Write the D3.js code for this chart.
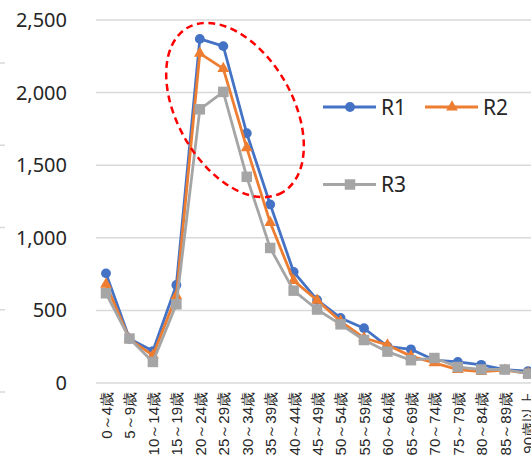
<!DOCTYPE html>
<html>
<head>
<meta charset="utf-8">
<script src="https://cdn.jsdelivr.net/npm/d3@7"></script>
<style>
  html, body { margin: 0; padding: 0; background: #fff; }
  svg { display: block; font-family: "Noto Sans", "Noto Sans CJK JP", sans-serif; }
</style>
</head>
<body>
<svg id="chart" width="531" height="466"></svg>
<script>
// Age groups on the category axis
const categories = ["0～4歳", "5～9歳", "10～14歳", "15～19歳", "20～24歳", "25～29歳",
  "30～34歳", "35～39歳", "40～44歳", "45～49歳", "50～54歳", "55～59歳", "60～64歳",
  "65～69歳", "70～74歳", "75～79歳", "80～84歳", "85～89歳", "90歳以上"];

// Counts for each series
const r1 = [755, 305, 220, 675, 2370, 2320, 1720, 1230, 765, 572, 448, 377, 252, 232, 158, 145, 125, 92, 82];
const r2 = [680, 302, 190, 600, 2270, 2165, 1620, 1105, 705, 570, 425, 310, 262, 185, 138, 92, 78, 88, 66];
const r3 = [618, 306, 145, 542, 1885, 2005, 1420, 930, 636, 506, 404, 296, 216, 157, 172, 110, 93, 93, 64];

const seriesNames = ["R1", "R2", "R3"];
const yTicks = [0, 500, 1000, 1500, 2000, 2500];

const series = [
  { name: seriesNames[0], values: r1, color: "#4472c4", shape: d3.symbolCircle, size: 76 },
  { name: seriesNames[1], values: r2, color: "#ed7d31", shape: d3.symbolTriangle, size: 60 },
  { name: seriesNames[2], values: r3, color: "#a5a5a5", shape: d3.symbolSquare, size: 110 }
];

const svg = d3.select("#chart");

const x = d3.scalePoint().domain(categories).range([106, 528.2]);
const y = d3.scaleLinear().domain([0, 2500]).range([383, 20]);
const plotLeft = 96, plotRight = 531;

// Faint tick stubs along the left edge
const stub = d3.scaleLinear().domain([0, 4]).range([392, 63]);
svg.append("g").selectAll("line").data(d3.range(5)).join("line")
  .attr("x1", 0).attr("x2", 5)
  .attr("y1", d => stub(d)).attr("y2", d => stub(d))
  .attr("stroke", "#d9d9d9").attr("stroke-width", 1.5);

// Horizontal gridlines
svg.append("g").selectAll("line").data(yTicks).join("line")
  .attr("x1", plotLeft).attr("x2", plotRight)
  .attr("y1", d => y(d)).attr("y2", d => y(d))
  .attr("stroke", "#d9d9d9").attr("stroke-width", 1.5);

// Y axis labels
const yAxis = svg.append("g")
  .attr("transform", `translate(${plotLeft},0)`)
  .call(d3.axisLeft(y).tickValues(yTicks).tickFormat(d3.format(",")).tickSize(0).tickPadding(29));
yAxis.select(".domain").remove();
yAxis.selectAll("text").attr("font-size", 20).attr("fill", "#262626")
  .attr("font-family", "\"Noto Sans\", sans-serif");

// X axis labels, rotated
const xAxis = svg.append("g")
  .attr("transform", `translate(0,${y(0)})`)
  .call(d3.axisBottom(x).tickSize(0));
xAxis.select(".domain").remove();
xAxis.selectAll("text")
  .attr("font-size", 15).attr("fill", "#262626")
  .attr("transform", "rotate(-90)")
  .attr("text-anchor", "end")
  .attr("x", -9).attr("y", 0).attr("dy", "0.36em");

// Lines and markers
const line = d3.line().x((d, i) => x(categories[i])).y(d => y(d));
series.forEach(s => {
  const g = svg.append("g");
  g.append("path").datum(s.values)
    .attr("d", line).attr("fill", "none")
    .attr("stroke", s.color).attr("stroke-width", 2.8)
    .attr("stroke-linejoin", "round");
  g.selectAll("path.m").data(s.values).join("path").attr("class", "m")
    .attr("d", d3.symbol(s.shape, s.size))
    .attr("transform", (d, i) => `translate(${x(categories[i])},${y(d)})`)
    .attr("fill", s.color);
});

// Dashed ellipse around the peak ages
const peakCx = (x(categories[4]) + x(categories[7])) / 2;
const peakCy = y(1880);
svg.append("ellipse")
  .attr("cx", 0).attr("cy", 0).attr("rx", 95).attr("ry", 57.5)
  .attr("transform", `translate(${peakCx},${peakCy}) rotate(60)`)
  .attr("fill", "none").attr("stroke", "#ff0000")
  .attr("stroke-width", 2.5).attr("stroke-dasharray", "7,4.5");

// Legend
const legendItems = [
  { s: series[0], x: 323, y: 107 },
  { s: series[1], x: 425, y: 107 },
  { s: series[2], x: 323, y: 184.5 }
];
const lg = svg.append("g").selectAll("g").data(legendItems).join("g")
  .attr("transform", d => `translate(${d.x},${d.y})`);
lg.append("line").attr("x1", 0).attr("x2", 53).attr("y1", 0).attr("y2", 0)
  .attr("stroke", d => d.s.color).attr("stroke-width", 2.8);
lg.append("path").attr("d", d => d3.symbol(d.s.shape, d.s.size)())
  .attr("transform", "translate(27,0)").attr("fill", d => d.s.color);
lg.append("text").attr("x", 58).attr("y", 0).attr("dy", "0.36em")
  .attr("font-size", 21).attr("fill", "#262626")
  .attr("font-family", "\"Noto Sans\", sans-serif")
  .text(d => d.s.name);
</script>
</body>
</html>
